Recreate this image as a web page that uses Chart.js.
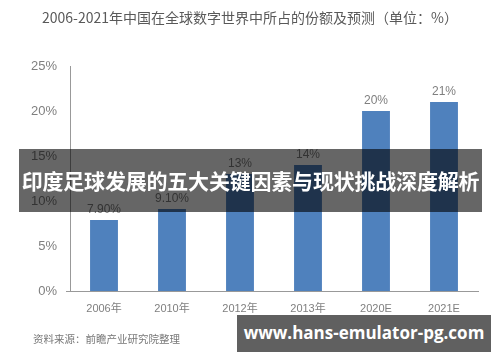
<!DOCTYPE html>
<html>
<head>
<meta charset="utf-8">
<script src="https://cdn.jsdelivr.net/npm/chart.js@4/dist/chart.umd.min.js"></script>
<style>
    html, body { margin: 0; padding: 0; background: #fff; }
    #wrap { position: relative; width: 500px; height: 362px; overflow: hidden; }
    #chart { position: absolute; left: 0; top: 0; }
    .title {
        position: absolute; left: 0; top: 7px; width: 500px; text-align: center;
        font: 14px "Noto Sans CJK SC", "Liberation Sans", sans-serif; color: #595959;
    }
    .source {
        position: absolute; left: 33px; top: 331px;
        font: 10.5px "Noto Sans CJK SC", sans-serif; color: #777;
    }
    .band {
        position: absolute; left: 19px; top: 149px; width: 463px; height: 63px;
        background: rgba(0, 0, 0, 0.6); color: #fff; text-align: center;
        font: bold 21px/63px "Noto Sans CJK SC", sans-serif; letter-spacing: -0.2px;
    }
    .mark {
        position: absolute; left: 237px; top: 315px; width: 254px; height: 37px;
        background: #606060; color: #fff; text-align: center;
        font: bold 17px/35px "Open Sans", "Noto Sans", sans-serif;
    }
</style>
</head>
<body>
<div id="wrap">
    <canvas id="chart" width="500" height="362"></canvas>
    <div class="title">2006-2021年中国在全球数字世界中所占的份额及预测（单位：%）</div>
    <div class="source">资料来源：前瞻产业研究院整理</div>
    <div class="band">印度足球发展的五大关键因素与现状挑战深度解析</div>
    <div class="mark">www.hans-emulator-pg.com</div>
</div>
<script>
    // data
    var years = ['2006年', '2010年', '2012年', '2013年', '2020E', '2021E'];
    var shares = [7.9, 9.1, 13, 14, 20, 21];
    var shareLabels = ['7.90%', '9.10%', '13%', '14%', '20%', '21%'];
    var yTicks = [0, 5, 10, 15, 20, 25];

    var grayText = '#7f7f7f';

    // value labels above each bar
    var barLabels = {
        id: 'barLabels',
        afterDatasetsDraw: function (chart) {
            var ctx = chart.ctx;
            var meta = chart.getDatasetMeta(0);
            ctx.save();
            ctx.fillStyle = grayText;
            ctx.font = '12px "Liberation Sans", sans-serif';
            ctx.textAlign = 'center';
            ctx.textBaseline = 'middle';
            meta.data.forEach(function (bar, i) {
                ctx.fillText(shareLabels[i], bar.x, bar.y - 10);
            });
            ctx.restore();
        }
    };

    // small tick on the y axis at 0%
    var zeroTick = {
        id: 'zeroTick',
        afterDraw: function (chart) {
            var ctx = chart.ctx;
            var y = chart.scales.y.getPixelForValue(0);
            var x = chart.chartArea.left;
            ctx.save();
            ctx.strokeStyle = '#999';
            ctx.lineWidth = 1;
            ctx.beginPath();
            ctx.moveTo(x - 4, y + 0.5);
            ctx.lineTo(x, y + 0.5);
            ctx.stroke();
            ctx.restore();
        }
    };

    new Chart(document.getElementById('chart'), {
        type: 'bar',
        data: {
            labels: years,
            datasets: [{
                data: shares,
                backgroundColor: '#4f81bd',
                categoryPercentage: 1,
                barPercentage: 0.41
            }]
        },
        options: {
            responsive: false,
            animation: false,
            layout: { padding: { left: 0, right: 22, top: 66, bottom: 0 } },
            plugins: { legend: { display: false }, tooltip: { enabled: false } },
            scales: {
                x: {
                    grid: { display: false, drawTicks: false },
                    border: { display: true, color: '#999' },
                    ticks: {
                        color: grayText, padding: 11,
                        font: { size: 11, family: '"Liberation Sans", "Noto Sans CJK SC", sans-serif' }
                    },
                    afterFit: function (s) { s.height = 71; }
                },
                y: {
                    min: 0, max: 25,
                    grid: { display: false, drawTicks: false },
                    border: { display: true, color: '#999' },
                    afterBuildTicks: function (s) {
                        s.ticks = yTicks.map(function (v) { return { value: v }; });
                    },
                    ticks: {
                        color: grayText, padding: 13,
                        font: { size: 13, family: '"Liberation Sans", sans-serif' },
                        callback: function (v) { return v + '%'; }
                    },
                    afterFit: function (s) { s.width = 70; }
                }
            }
        },
        plugins: [barLabels, zeroTick]
    });
</script>
</body>
</html>
